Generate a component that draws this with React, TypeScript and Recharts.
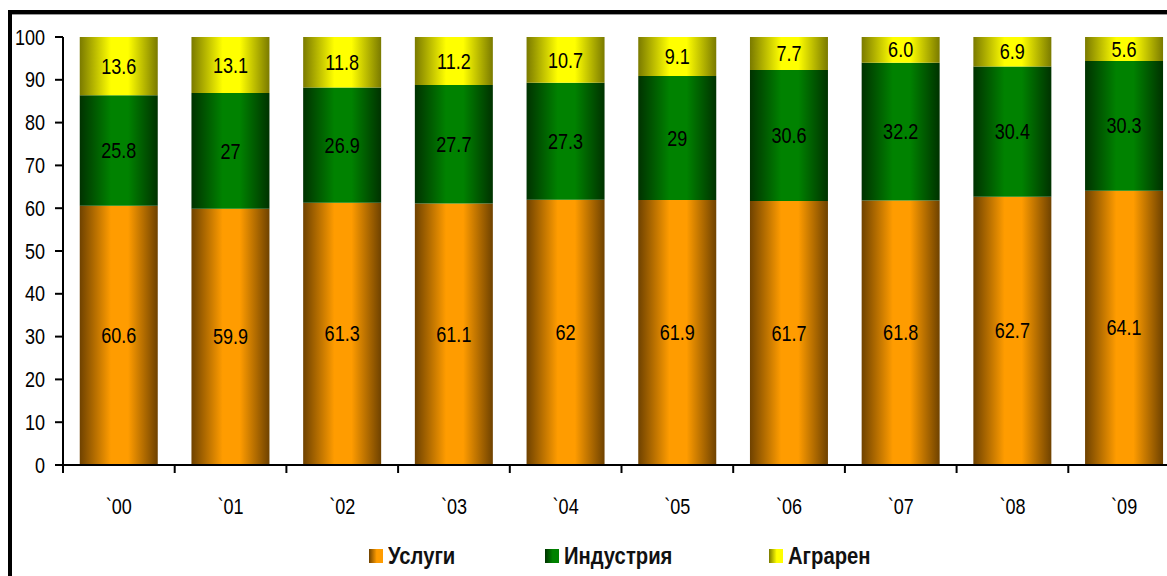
import React from "react";
import { BarChart, Bar, XAxis, YAxis, Legend, LabelList } from "recharts";

const years = ["`00", "`01", "`02", "`03", "`04", "`05", "`06", "`07", "`08", "`09"];
const services = [60.6, 59.9, 61.3, 61.1, 62, 61.9, 61.7, 61.8, 62.7, 64.1];
const industry = [25.8, 27, 26.9, 27.7, 27.3, 29, 30.6, 32.2, 30.4, 30.3];
const agrarian = [13.6, 13.1, 11.8, 11.2, 10.7, 9.1, 7.7, 6.0, 6.9, 5.6];
const yTicks = [0, 10, 20, 30, 40, 50, 60, 70, 80, 90, 100];

const data = years.map((y, i) => ({
  year: y,
  "Услуги": services[i],
  "Индустрия": industry[i],
  "Аграрен": agrarian[i],
}));

// Liberation Sans squeezed horizontally ~ Arial Narrow
const FONT = '"Liberation Sans", Arial, sans-serif';
const NARROW = 0.82;

const COLOURS = {
  services: { dark: "#6f4200", light: "#ff9c00" },
  industry: { dark: "#003200", light: "#008200" },
  agrarian: { dark: "#7a7a00", light: "#ffff00" },
};

const SERIES = [
  { key: "Услуги", id: "services" as const },
  { key: "Индустрия", id: "industry" as const },
  { key: "Аграрен", id: "agrarian" as const },
];

const W = 1200;
const H = 576;
const MARGIN = { top: 37, right: 20, left: 0, bottom: 0 };
const Y_W = 63;
const STEP = (W - MARGIN.left - MARGIN.right - Y_W) / years.length;

function NText({ x, y, anchor = "middle", size = 20, children }: any) {
  return (
    <text
      transform={`translate(${x},${y}) scale(${NARROW},1)`}
      x={0}
      y={0}
      textAnchor={anchor}
      dominantBaseline="central"
      fontSize={size}
      fontFamily={FONT}
      fill="#000"
    >
      {children}
    </text>
  );
}

function XTick({ x, y, payload }: any) {
  const axisY = y - 8;
  const bx = x - STEP / 2;
  return (
    <g>
      <line x1={bx} y1={axisY} x2={bx} y2={axisY + 8} stroke="#000" strokeWidth={2} />
      <NText x={x} y={axisY + 41} size={22}>
        {payload.value}
      </NText>
    </g>
  );
}

function YTick({ x, y, payload }: any) {
  return (
    <NText x={x} y={y} anchor="end" size={22}>
      {payload.value}
    </NText>
  );
}

function BarLabel({ x, y, width, height, value, fixed }: any) {
  const txt = fixed ? Number(value).toFixed(1) : String(value);
  return (
    <NText x={x + width / 2} y={y + height / 2} size={22}>
      {txt}
    </NText>
  );
}

function LegendBox() {
  return (
    <div style={{ display: "flex", alignItems: "center", paddingLeft: 369, height: 40, fontFamily: FONT }}>
      {SERIES.map((s) => {
        const c = COLOURS[s.id];
        return (
          <div key={s.key} style={{ display: "flex", alignItems: "center", marginRight: 90 }}>
            <span
              style={{
                display: "inline-block",
                width: 14,
                height: 14,
                marginRight: 5,
                background: `linear-gradient(to right, ${c.dark}, ${c.light} 55%, ${c.light})`,
              }}
            />
            <span
              style={{
                fontWeight: "bold",
                fontSize: 23,
                color: "#111",
                display: "inline-block",
                transform: "scaleX(0.88)",
                transformOrigin: "left center",
                marginRight: -9,
              }}
            >
              {s.key}
            </span>
          </div>
        );
      })}
    </div>
  );
}

export default function App() {
  return (
    <div style={{ position: "fixed", left: 0, top: 0, width: 1167, height: 576, overflow: "hidden", background: "#fff" }}>
      <div
        style={{
          position: "absolute",
          left: 8,
          top: 10,
          width: 1300,
          height: 700,
          borderLeft: "4px solid #000",
          borderTop: "4px solid #000",
          boxShadow: "inset 0 1px 0 #999",
        }}
      />
      <div style={{ position: "absolute", left: 0, top: 0 }}>
        <BarChart width={W} height={H} data={data} margin={MARGIN} barCategoryGap="15%">
          <defs>
            {SERIES.map((s) => (
              <linearGradient key={s.id} id={`grad-${s.id}`} x1="0" y1="0" x2="1" y2="0">
                <stop offset="0%" stopColor={COLOURS[s.id].dark} />
                <stop offset="40%" stopColor={COLOURS[s.id].light} />
                <stop offset="62%" stopColor={COLOURS[s.id].light} />
                <stop offset="100%" stopColor={COLOURS[s.id].dark} />
              </linearGradient>
            ))}
          </defs>
          <XAxis
            dataKey="year"
            height={71}
            tickSize={8}
            tickMargin={0}
            tickLine={false}
            axisLine={{ stroke: "#000", strokeWidth: 2 }}
            tick={<XTick />}
            interval={0}
          />
          <YAxis
            domain={[0, 100]}
            ticks={yTicks}
            width={Y_W}
            tickSize={8}
            tickMargin={10}
            axisLine={{ stroke: "#000", strokeWidth: 2 }}
            tickLine={{ stroke: "#000", strokeWidth: 2 }}
            tick={<YTick />}
            interval={0}
          />
          <Legend
            verticalAlign="bottom"
            height={40}
            content={<LegendBox />}
            wrapperStyle={{ left: 0, width: W }}
          />
          {SERIES.map((s) => (
            <Bar key={s.key} dataKey={s.key} stackId="a" fill={`url(#grad-${s.id})`} isAnimationActive={false}>
              <LabelList dataKey={s.key} content={<BarLabel fixed={s.id === "agrarian"} />} />
            </Bar>
          ))}
        </BarChart>
      </div>
    </div>
  );
}
